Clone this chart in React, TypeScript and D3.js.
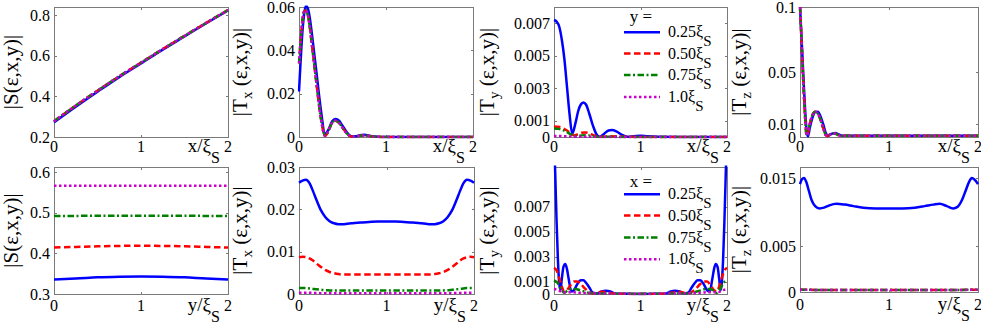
import React, { useEffect } from 'react';
import * as d3 from 'd3';

// ---------------- DATA ----------------
const X_TICKS = [0, 1, 2];
const LEGEND_LABELS = ['0.25', '0.50', '0.75', '1.0'];

// Panel 1: |S| vs x
const p1_x = [0, 0.25, 0.5, 0.75, 1, 1.25, 1.5, 1.75, 2];
const p1_blue = [0.272, 0.349, 0.423, 0.495, 0.562, 0.63, 0.695, 0.76, 0.823];
const p1_rest = [0.278, 0.355, 0.428, 0.499, 0.566, 0.633, 0.698, 0.762, 0.825];

// Panel 2: |Tx| vs x
const p2_x = [0, 0.02, 0.04, 0.06, 0.08, 0.1, 0.12, 0.15, 0.2, 0.25, 0.3, 0.34, 0.38, 0.42, 0.46, 0.5, 0.55, 0.6, 0.65, 0.7, 0.75, 0.8, 0.85, 0.9, 1.0, 1.2, 1.5, 2.0];
const p2_blue = [0.021, 0.036, 0.049, 0.057, 0.0605, 0.0595, 0.056, 0.047, 0.03, 0.013, 0.0015, 0.0035, 0.0072, 0.0083, 0.0075, 0.0052, 0.0022, 0.0004, 0.0003, 0.0008, 0.001, 0.0007, 0.0003, 0.0001, 0, 0, 0, 0];
const p2_rest = [0.034, 0.045, 0.054, 0.058, 0.0585, 0.0565, 0.052, 0.042, 0.025, 0.009, 0.0005, 0.003, 0.0065, 0.0075, 0.0065, 0.0043, 0.0016, 0.0002, 0.0002, 0.0006, 0.0007, 0.0005, 0.0002, 0.0001, 0, 0, 0, 0];

// Panel 3: |Ty| vs x
const p3_xb = [0, 0.03, 0.06, 0.09, 0.12, 0.15, 0.18, 0.21, 0.25, 0.28, 0.31, 0.34, 0.37, 0.41, 0.45, 0.5, 0.53, 0.58, 0.63, 0.67, 0.72, 0.78, 0.85, 0.92, 1.0, 1.08, 1.2, 1.5, 2.0];
const p3_blue = [0.0072, 0.0071, 0.0068, 0.006, 0.0048, 0.0031, 0.0014, 0.0002, 0.0009, 0.0016, 0.002, 0.00213, 0.002, 0.0014, 0.0007, 0.0001, 0.00002, 0.0002, 0.0004, 0.00043, 0.00035, 0.00015, 0.00002, 0.00005, 0.00008, 0.00004, 0.00001, 0, 0];
const p3_x = [0, 0.05, 0.1, 0.15, 0.2, 0.23, 0.27, 0.32, 0.36, 0.4, 0.45, 0.5, 0.55, 0.65, 0.8, 1.0, 1.5, 2.0];
const p3_red = [0.00065, 0.00063, 0.00055, 0.0004, 0.0002, 0.0001, 0.00015, 0.00026, 0.00028, 0.00024, 0.00013, 0.00004, 0.00002, 0.00005, 0.00002, 0, 0, 0];
const p3_green = [0.00052, 0.0005, 0.00043, 0.0003, 0.00014, 0.00006, 0.00006, 0.0001, 0.00011, 0.0001, 0.00005, 0.00001, 0, 0.00002, 0, 0, 0, 0];
const p3_magenta = [0.00006, 0.00006, 0.00005, 0.00004, 0.00003, 0.00002, 0.00002, 0.00002, 0.00002, 0.00002, 0.00001, 0.00001, 0, 0, 0, 0, 0, 0];

// Panel 4: |Tz| vs x
const p4_x = [0, 0.015, 0.03, 0.045, 0.06, 0.075, 0.09, 0.11, 0.14, 0.17, 0.2, 0.23, 0.26, 0.29, 0.31, 0.34, 0.37, 0.4, 0.43, 0.46, 0.5, 0.6, 0.8, 1.0, 1.5, 2.0];
const p4_blue = [0.1, 0.08, 0.058, 0.037, 0.018, 0.005, 0.0005, 0.007, 0.015, 0.0192, 0.0195, 0.016, 0.01, 0.003, 0.0008, 0.0018, 0.0028, 0.003, 0.0022, 0.0012, 0.0009, 0.0009, 0.0009, 0.0009, 0.0009, 0.0009];
const p4_rest = [0.1, 0.077, 0.053, 0.031, 0.012, 0.001, 0.003, 0.01, 0.017, 0.0195, 0.018, 0.0135, 0.007, 0.0015, 0.0008, 0.002, 0.0027, 0.0025, 0.0015, 0.001, 0.001, 0.001, 0.001, 0.001, 0.001, 0.001];

// Panel 5: |S| vs y
const p5_x = [0, 0.25, 0.5, 0.75, 1, 1.25, 1.5, 1.75, 2];
const p5_blue = [0.336, 0.338, 0.341, 0.3425, 0.343, 0.3425, 0.341, 0.338, 0.336];
const p5_red = [0.4145, 0.416, 0.4175, 0.4185, 0.419, 0.4185, 0.4175, 0.416, 0.4145];
const p5_green = [0.4925, 0.4925, 0.493, 0.493, 0.493, 0.493, 0.493, 0.4925, 0.4925];
const p5_magenta = [0.567, 0.567, 0.567, 0.567, 0.567, 0.567, 0.567, 0.567, 0.567];

// Panel 6: |Tx| vs y
const p6_x = [0, 0.04, 0.08, 0.12, 0.16, 0.2, 0.25, 0.3, 0.35, 0.4, 0.45, 0.5, 0.55, 0.6, 0.7, 0.8, 0.9, 1.0, 1.1, 1.2, 1.3, 1.4, 1.45, 1.5, 1.55, 1.6, 1.65, 1.7, 1.75, 1.8, 1.84, 1.88, 1.92, 1.96, 2.0];
const p6_blue = [0.0263, 0.0268, 0.027, 0.0262, 0.0243, 0.0222, 0.0198, 0.0182, 0.0172, 0.0167, 0.0165, 0.0165, 0.0166, 0.0167, 0.0169, 0.017, 0.0171, 0.0171, 0.0171, 0.017, 0.0169, 0.0167, 0.0166, 0.0165, 0.0165, 0.0167, 0.0172, 0.0182, 0.0198, 0.0222, 0.0243, 0.0262, 0.027, 0.0268, 0.0263];
const p6_red = [0.0087, 0.0088, 0.0087, 0.0084, 0.0079, 0.0072, 0.0064, 0.0057, 0.0052, 0.0049, 0.0047, 0.0046, 0.0046, 0.0046, 0.0046, 0.0046, 0.0046, 0.0046, 0.0046, 0.0046, 0.0046, 0.0046, 0.0046, 0.0046, 0.0047, 0.0049, 0.0052, 0.0057, 0.0064, 0.0072, 0.0079, 0.0084, 0.0087, 0.0088, 0.0087];
const p6_green = [0.0014, 0.0014, 0.0014, 0.0013, 0.0012, 0.0011, 0.001, 0.0009, 0.00085, 0.0008, 0.0008, 0.0008, 0.0008, 0.0008, 0.0008, 0.0008, 0.0008, 0.0008, 0.0008, 0.0008, 0.0008, 0.0008, 0.0008, 0.0008, 0.0008, 0.0008, 0.00085, 0.0009, 0.001, 0.0011, 0.0012, 0.0013, 0.0014, 0.0014, 0.0014];
const p6_magenta = [0.0003, 0.0003, 0.0003, 0.0003, 0.00025, 0.00025, 0.0002, 0.0002, 0.0002, 0.0002, 0.0002, 0.0002, 0.0002, 0.0002, 0.0002, 0.0002, 0.0002, 0.0002, 0.0002, 0.0002, 0.0002, 0.0002, 0.0002, 0.0002, 0.0002, 0.0002, 0.0002, 0.0002, 0.0002, 0.00025, 0.00025, 0.0003, 0.0003, 0.0003, 0.0003];

// Panel 7: |Ty| vs y
const p7_xb = [0, 0.015, 0.03, 0.045, 0.06, 0.075, 0.09, 0.11, 0.13, 0.15, 0.17, 0.2, 0.23, 0.27, 0.31, 0.34, 0.37, 0.41, 0.45, 0.5, 0.55, 0.6, 0.65, 0.7, 0.8, 0.9, 1.0, 1.1, 1.2, 1.3, 1.35, 1.4, 1.45, 1.5, 1.55, 1.59, 1.63, 1.66, 1.69, 1.73, 1.77, 1.8, 1.83, 1.85, 1.87, 1.89, 1.91, 1.925, 1.94, 1.955, 1.97, 1.985, 2.0];
const p7_blue = [0.013, 0.0095, 0.0058, 0.0028, 0.0009, 0.0003, 0.0012, 0.0022, 0.0024, 0.002, 0.0012, 0.0002, 0.0003, 0.0008, 0.0011, 0.0011, 0.0009, 0.0005, 0.0001, 0.00005, 0.0002, 0.00026, 0.0002, 0.00005, 0.00002, 0.00001, 0, 0.00001, 0.00002, 0.00005, 0.0002, 0.00026, 0.0002, 0.00005, 0.0001, 0.0005, 0.0009, 0.0011, 0.0011, 0.0008, 0.0003, 0.0002, 0.0012, 0.002, 0.0024, 0.0022, 0.0012, 0.0003, 0.0009, 0.0028, 0.0058, 0.0095, 0.013];
const p7_xr = [0, 0.03, 0.06, 0.09, 0.12, 0.15, 0.19, 0.23, 0.27, 0.31, 0.35, 0.4, 0.45, 0.5, 0.55, 0.6, 0.7, 0.85, 1.0, 1.15, 1.3, 1.4, 1.45, 1.5, 1.55, 1.6, 1.65, 1.69, 1.73, 1.77, 1.81, 1.85, 1.88, 1.91, 1.94, 1.97, 2.0];
const p7_red = [0.0021, 0.0019, 0.0013, 0.0006, 0.0002, 0.0003, 0.0007, 0.001, 0.001, 0.0008, 0.0005, 0.0002, 0.00005, 0.0001, 0.00018, 0.00015, 0.00003, 0.00001, 0, 0.00001, 0.00003, 0.00015, 0.00018, 0.0001, 0.00005, 0.0002, 0.0005, 0.0008, 0.001, 0.001, 0.0007, 0.0003, 0.0002, 0.0006, 0.0013, 0.0019, 0.0021];
const p7_xg = [0, 0.04, 0.08, 0.12, 0.16, 0.2, 0.25, 0.3, 0.35, 0.4, 0.5, 0.7, 1.0, 1.3, 1.5, 1.6, 1.65, 1.7, 1.75, 1.8, 1.84, 1.88, 1.92, 1.96, 2.0];
const p7_green = [0.0011, 0.0009, 0.0004, 0.0001, 0.0003, 0.0004, 0.0004, 0.0003, 0.0002, 0.0001, 0.00005, 0.00003, 0.00002, 0.00003, 0.00005, 0.0001, 0.0002, 0.0003, 0.0004, 0.0004, 0.0003, 0.0001, 0.0004, 0.0009, 0.0011];
const p7_xm = [0, 0.05, 0.1, 0.2, 0.3, 0.5, 1.0, 1.5, 1.7, 1.8, 1.9, 1.95, 2.0];
const p7_magenta = [0.0004, 0.0003, 0.00015, 0.00015, 0.0001, 0.00005, 0.00002, 0.00005, 0.0001, 0.00015, 0.00015, 0.0003, 0.0004];

// Panel 8: |Tz| vs y
const p8_x = [0, 0.02, 0.045, 0.07, 0.1, 0.13, 0.17, 0.22, 0.27, 0.33, 0.41, 0.5, 0.6, 0.71, 0.85, 1.0, 1.15, 1.29, 1.4, 1.5, 1.57, 1.65, 1.72, 1.77, 1.82, 1.86, 1.9, 1.93, 1.96, 2.0];
const p8_blue = [0.0142, 0.0148, 0.015, 0.0145, 0.0133, 0.0121, 0.0113, 0.011, 0.0111, 0.0114, 0.0116, 0.0115, 0.0113, 0.0111, 0.011, 0.011, 0.011, 0.0111, 0.0113, 0.0115, 0.0116, 0.0113, 0.011, 0.0112, 0.0121, 0.0133, 0.0145, 0.015, 0.0148, 0.0142];
const p8_xr = [0, 0.5, 1, 1.5, 2];
const p8_rest = [0.0003, 0.00025, 0.00025, 0.00025, 0.0003];

// ---------------- STYLE ----------------
const FONT = 'Liberation Serif';
const STYLES: Record<string, { color: string; dash?: string }> = {
  blue: { color: '#0000ff' },
  red: { color: '#ff0000', dash: '6.5,3.5' },
  green: { color: '#008000', dash: '6.5,2.5,2,2.5' },
  magenta: { color: '#cc00cc', dash: '2.5,2.5' },
};
const LW = 2.5;
const FRAME = '#7a7a7a';

type Kind = 'blue' | 'red' | 'green' | 'magenta';
type Series = { xs: number[]; ys: number[]; kind: Kind };
type Cfg = {
  id: string;
  left: number; right: number; top: number; bottom: number;
  yDomain: [number, number];
  yTicks: number[]; yTickLabels: string[];
  yMain: string; ySub?: string; yRest?: string; yLabelX: number;
  xVar: string; tickBase: number;
  series: Series[];
  legend?: { title: string; titleY: number; lineYs: number[] };
};

const s = (xs: number[], ys: number[], kind: Kind): Series => ({ xs, ys, kind });

const TOP = 7, BOT1 = 137, TOP2 = 167, BOT2 = 294;

const panels: Cfg[] = [
  {
    id: 'p1', left: 54, right: 228, top: TOP, bottom: BOT1, yDomain: [0.2, 0.84],
    yTicks: [0.2, 0.4, 0.6, 0.8], yTickLabels: ['0.2', '0.4', '0.6', '0.8'],
    yMain: '|S(ε,x,y)|', yLabelX: 17.5, xVar: 'x', tickBase: 152,
    series: [s(p1_x, p1_blue, 'blue'), s(p1_x, p1_rest, 'red'), s(p1_x, p1_rest, 'green'), s(p1_x, p1_rest, 'magenta')],
  },
  {
    id: 'p2', left: 299, right: 473, top: TOP, bottom: BOT1, yDomain: [0, 0.06],
    yTicks: [0, 0.02, 0.04, 0.06], yTickLabels: ['0', '0.02', '0.04', '0.06'],
    yMain: '|T', ySub: 'x', yRest: ' (ε,x,y)|', yLabelX: 247, xVar: 'x', tickBase: 152,
    series: [s(p2_x, p2_blue, 'blue'), s(p2_x, p2_rest, 'red'), s(p2_x, p2_rest, 'green'), s(p2_x, p2_rest, 'magenta')],
  },
  {
    id: 'p3', left: 554, right: 727, top: TOP, bottom: BOT1, yDomain: [0, 0.008],
    yTicks: [0, 0.001, 0.003, 0.005, 0.007], yTickLabels: ['0', '0.001', '0.003', '0.005', '0.007'],
    yMain: '|T', ySub: 'y', yRest: ' (ε,x,y)|', yLabelX: 494, xVar: 'x', tickBase: 152,
    series: [s(p3_xb, p3_blue, 'blue'), s(p3_x, p3_red, 'red'), s(p3_x, p3_green, 'green'), s(p3_x, p3_magenta, 'magenta')],
    legend: { title: 'y =', titleY: 22, lineYs: [32.3, 53.5, 75, 97] },
  },
  {
    id: 'p4', left: 800, right: 978, top: TOP, bottom: BOT1, yDomain: [0, 0.1],
    yTicks: [0, 0.01, 0.05, 0.1], yTickLabels: ['0', '0.01', '0.05', '0.1'],
    yMain: '|T', ySub: 'z', yRest: ' (ε,x,y)|', yLabelX: 746, xVar: 'x', tickBase: 152,
    series: [s(p4_x, p4_blue, 'blue'), s(p4_x, p4_rest, 'red'), s(p4_x, p4_rest, 'green'), s(p4_x, p4_rest, 'magenta')],
  },
  {
    id: 'p5', left: 54, right: 228, top: TOP2, bottom: BOT2, yDomain: [0.3, 0.613],
    yTicks: [0.3, 0.4, 0.5, 0.6], yTickLabels: ['0.3', '0.4', '0.5', '0.6'],
    yMain: '|S(ε,x,y)|', yLabelX: 17.5, xVar: 'y', tickBase: 311,
    series: [s(p5_x, p5_blue, 'blue'), s(p5_x, p5_red, 'red'), s(p5_x, p5_green, 'green'), s(p5_x, p5_magenta, 'magenta')],
  },
  {
    id: 'p6', left: 299, right: 474, top: TOP2, bottom: BOT2, yDomain: [0, 0.03],
    yTicks: [0, 0.01, 0.02, 0.03], yTickLabels: ['0', '0.01', '0.02', '0.03'],
    yMain: '|T', ySub: 'x', yRest: ' (ε,x,y)|', yLabelX: 247, xVar: 'y', tickBase: 311,
    series: [s(p6_x, p6_blue, 'blue'), s(p6_x, p6_red, 'red'), s(p6_x, p6_green, 'green'), s(p6_x, p6_magenta, 'magenta')],
  },
  {
    id: 'p7', left: 554, right: 727, top: TOP2, bottom: BOT2, yDomain: [0, 0.0102],
    yTicks: [0, 0.001, 0.003, 0.005, 0.007], yTickLabels: ['0', '0.001', '0.003', '0.005', '0.007'],
    yMain: '|T', ySub: 'y', yRest: ' (ε,x,y)|', yLabelX: 494, xVar: 'y', tickBase: 311,
    series: [s(p7_xb, p7_blue, 'blue'), s(p7_xr, p7_red, 'red'), s(p7_xg, p7_green, 'green'), s(p7_xm, p7_magenta, 'magenta')],
    legend: { title: 'x =', titleY: 186.5, lineYs: [194.3, 215.5, 237.5, 259.3] },
  },
  {
    id: 'p8', left: 800, right: 978, top: TOP2, bottom: 292, yDomain: [0, 0.01645],
    yTicks: [0, 0.006, 0.015], yTickLabels: ['0', '0.005', '0.015'],
    yMain: '|T', ySub: 'z', yRest: ' (ε,x,y)|', yLabelX: 746, xVar: 'y', tickBase: 310,
    series: [s(p8_x, p8_blue, 'blue'), s(p8_xr, p8_rest, 'red'), s(p8_xr, p8_rest, 'green'), s(p8_xr, p8_rest, 'magenta')],
  },
];

function Panel({ c }: { c: Cfg }) {
  const x = d3.scaleLinear().domain([0, 2]).range([c.left, c.right]);
  const y = d3.scaleLinear().domain(c.yDomain).range([c.bottom, c.top]);
  const lineGen = d3.line<[number, number]>().curve(d3.curveMonotoneX);
  const pathFor = (sr: Series) => {
    const pts: [number, number][] = sr.xs.map((xv, i) => [x(xv), y(sr.ys[i])]);
    return lineGen(pts) || '';
  };
  const tl = 3;
  const midY = (c.top + c.bottom) / 2;
  return (
    <g>
      <defs>
        <clipPath id={`clip-${c.id}`}>
          <rect x={c.left - 1.5} y={c.top - 1.5} width={c.right - c.left + 3} height={c.bottom - c.top + 3} />
        </clipPath>
      </defs>
      <rect x={c.left + 0.5} y={c.top + 0.5} width={c.right - c.left} height={c.bottom - c.top} fill="#fff" stroke={FRAME} strokeWidth={1} />
      {c.yTicks.map((t, i) => (
        <g key={'yt' + i}>
          <line x1={c.left} x2={c.left + tl} y1={Math.round(y(t)) + 0.5} y2={Math.round(y(t)) + 0.5} stroke={FRAME} />
          <line x1={c.right + 1} x2={c.right + 1 - tl} y1={Math.round(y(t)) + 0.5} y2={Math.round(y(t)) + 0.5} stroke={FRAME} />
        </g>
      ))}
      {X_TICKS.map((t, i) => (
        <g key={'xt' + i}>
          <line x1={Math.round(x(t)) + 0.5} x2={Math.round(x(t)) + 0.5} y1={c.bottom + 1} y2={c.bottom + 1 - tl} stroke={FRAME} />
          <line x1={Math.round(x(t)) + 0.5} x2={Math.round(x(t)) + 0.5} y1={c.top} y2={c.top + tl} stroke={FRAME} />
        </g>
      ))}
      <g clipPath={`url(#clip-${c.id})`}>
        {c.series.map((sr, i) => (
          <path
            key={i}
            d={pathFor(sr)}
            fill="none"
            stroke={STYLES[sr.kind].color}
            strokeWidth={LW}
            strokeDasharray={STYLES[sr.kind].dash}
            strokeLinejoin="round"
          />
        ))}
      </g>
      {c.yTicks.map((t, i) => (
        <text key={'yl' + i} x={c.left - 4} y={y(t) + 5.5} textAnchor="end" fontSize={16} fontFamily={FONT}>
          {c.yTickLabels[i]}
        </text>
      ))}
      {X_TICKS.map((t, i) => (
        <text key={'xl' + i} x={x(t)} y={c.tickBase} textAnchor="middle" fontSize={16} fontFamily={FONT}>
          {String(t)}
        </text>
      ))}
      <text x={c.right - 8} y={c.tickBase} textAnchor="end" fontSize={19} fontFamily={FONT}>
        {c.xVar}/ξ<tspan dy={11} fontSize={16}>S</tspan>
      </text>
      <text transform={`translate(${c.yLabelX},${midY}) rotate(-90)`} textAnchor="middle" fontSize={21} fontFamily={FONT}>
        {c.yMain}
        {c.ySub ? <tspan dy={5} fontSize={15}>{c.ySub}</tspan> : null}
        {c.yRest ? <tspan dy={c.ySub ? -5 : 0}>{c.yRest}</tspan> : null}
      </text>
      {c.legend ? (
        <g>
          <text x={641} y={c.legend.titleY} textAnchor="middle" fontSize={17} fontFamily={FONT}>
            {c.legend.title}
          </text>
          {c.legend.lineYs.map((ly, i) => {
            const kind = (['blue', 'red', 'green', 'magenta'] as Kind[])[i];
            return (
              <g key={'lg' + i}>
                <line x1={624} x2={660} y1={ly} y2={ly} stroke={STYLES[kind].color} strokeWidth={LW} strokeDasharray={STYLES[kind].dash} />
                <text x={668} y={ly + 5} fontSize={16} fontFamily={FONT}>
                  {LEGEND_LABELS[i]}ξ<tspan dy={9} fontSize={15}>S</tspan>
                </text>
              </g>
            );
          })}
        </g>
      ) : null}
    </g>
  );
}

export default function App() {
  useEffect(() => {
    document.body.style.margin = '0';
  }, []);
  return (
    <div style={{ position: 'absolute', left: 0, top: 0 }}>
      <svg width={981} height={327} style={{ display: 'block', background: '#fff' }}>
        <rect x={0} y={0} width={981} height={327} fill="#fff" />
        {panels.map((c) => (
          <Panel key={c.id} c={c} />
        ))}
      </svg>
    </div>
  );
}
